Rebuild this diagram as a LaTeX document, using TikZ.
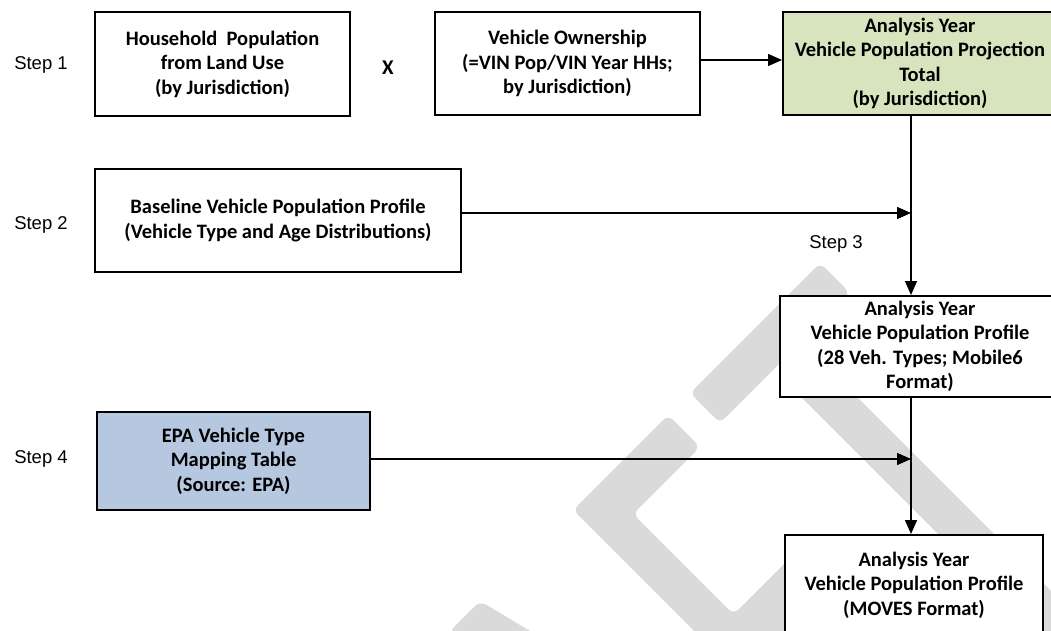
\documentclass[tikz,border=0pt]{standalone}
\usepackage{fontspec}
\setmainfont{Carlito}
\newfontfamily\stepfont{Liberation Sans}
\usetikzlibrary{arrows.meta}
\definecolor{wm}{RGB}{218,218,218}
\definecolor{boxgreen}{RGB}{215,228,189}
\definecolor{boxblue}{RGB}{182,199,224}
\begin{document}
\begin{tikzpicture}[x=1pt,y=-1pt,
  box/.style={draw=black, line width=2pt, fill=white, align=center, inner sep=0pt,
    font=\fontsize{20.5}{24.5}\selectfont\bfseries},
  lbl/.style={font=\stepfont\fontsize{18.5}{20}\selectfont, inner sep=0pt},
  arr/.style={line width=1.4pt, -{Triangle[length=14pt,width=12pt]}},
  conn/.style={line width=1.4pt},
  wmark/.style={fill=wm, rounded corners=7pt}]
\useasboundingbox (0,0) rectangle (1051,631);
\clip (0,0) rectangle (1051,631);
% watermark
\fill[wmark] (820,263) -- (850,293) -- (720,423) -- (690,393) -- cycle;
\fill[wmark] (573,510) -- (668,415) -- (700,447) -- (633,514) -- (733.5,614.5) -- (815,533) -- (851,569) -- (743,680) -- cycle;
\fill[wmark] (814,354) -- (1120,660) -- (1092,688) -- (786,382) -- cycle;
\fill[wmark] (480,601) -- (545,640) -- (510,670) -- (449,632) -- cycle;
% boxes
\node[box, minimum width=255pt, minimum height=104pt] (hh) at (222.5,64)
  {Household~~Population\\from Land Use\\(by Jurisdiction)};
\node[box, minimum width=265pt, minimum height=103pt] (vo) at (567.5,63.5)
  {Vehicle Ownership\\(=VIN Pop/VIN Year HHs;\\by Jurisdiction)};
\node[box, fill=boxgreen, minimum width=274pt, minimum height=103pt] (tot) at (920,63.5)
  {Analysis Year\\Vehicle Population Projection\\Total\\(by Jurisdiction)};
\node[box, minimum width=366pt, minimum height=103pt] (base) at (278,220.5)
  {Baseline Vehicle Population Profile\\(Vehicle Type and Age Distributions)};
\node[box, minimum width=280pt, minimum height=101pt] (prof) at (920,346.5)
  {Analysis Year\\Vehicle Population Profile\\(28 Veh. Types; Mobile6\\Format)};
\node[box, fill=boxblue, minimum width=273pt, minimum height=98pt] (epa) at (233.5,461)
  {EPA Vehicle Type\\Mapping Table\\(Source: EPA)};
\node[box, minimum width=258pt, minimum height=100pt] (moves) at (914,585)
  {Analysis Year\\Vehicle Population Profile\\(MOVES Format)};
% labels
\node[lbl] (s1) at (41,65) {Step 1};
\node[lbl] (s2) at (41,225) {Step 2};
\node[lbl] (s3) at (836,244) {Step 3};
\node[lbl] (s4) at (41,459) {Step 4};
\node[lbl, font=\fontsize{21}{22}\selectfont\bfseries] (times) at (388,68) {X};
% connectors
\coordinate (j1) at (911,213);
\coordinate (j2) at (911,459);
\draw[arr] ([yshift=3.5pt]vo.east) -- ([yshift=3.5pt]tot.west);
\draw[conn] (tot.south -| j1) -- (j1);
\draw[arr] (j1) -- (prof.north -| j1);
\draw[arr] (base.east |- j1) -- (j1);
\draw[conn] (prof.south -| j2) -- (j2);
\draw[arr] (j2) -- (moves.north -| j2);
\draw[arr] (epa.east |- j2) -- (j2);
\end{tikzpicture}
\end{document}
